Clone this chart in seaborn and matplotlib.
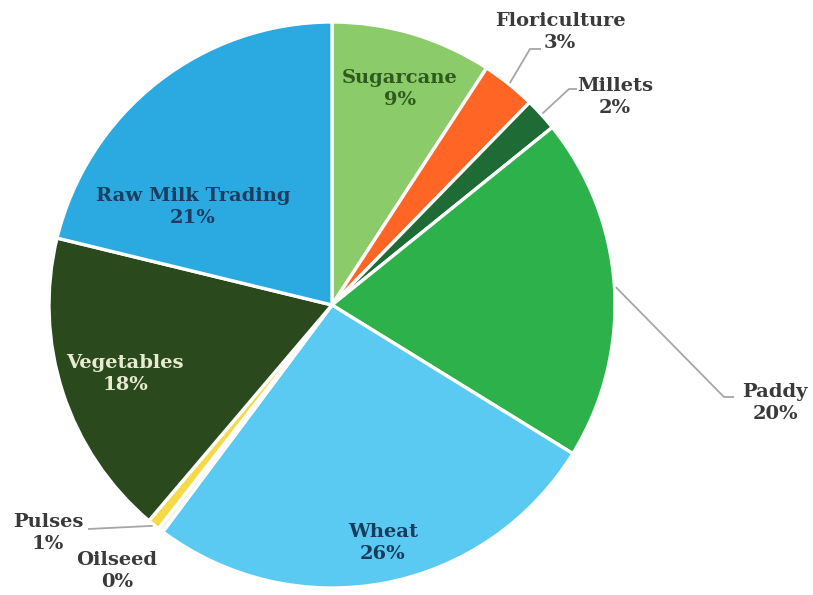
import numpy as np
import matplotlib
matplotlib.use("Agg")
import matplotlib.pyplot as plt
import seaborn as sns

# Share of agri-business activity by segment (percent)
segments = ["Sugarcane", "Floriculture", "Millets", "Paddy", "Wheat",
            "Oilseed", "Pulses", "Vegetables", "Raw Milk Trading"]
shares = [9.2, 3.1, 1.9, 19.6, 26.4, 0.3, 0.7, 17.6, 21.2]
colors = ["#8ccb69", "#ff6625", "#1e6b36", "#2db14b", "#5bcaf2",
          "#f4f1de", "#f5d947", "#2a4a1e", "#2ba9e1"]

sns.set_theme(style="white")
plt.rcParams["font.family"] = ["DejaVu Serif", "DejaVu Sans"]

W, H = 813, 595
fig = plt.figure(figsize=(W / 100, H / 100), dpi=100)
ax = fig.add_axes([0, 0, 1, 1])


def px(x, y):
    """Pixel position (origin top-left) to axes data coordinates."""
    return x, H - y


center = px(332, 305)
radius = 283

wedges, _ = ax.pie(shares, colors=colors, startangle=90, counterclock=False,
                   center=center, radius=radius, frame=True,
                   wedgeprops=dict(edgecolor="white", linewidth=2.4))

ax.set_xlim(0, W)
ax.set_ylim(0, H)
ax.set_aspect("equal")
ax.axis("off")

# label placement: (text centre in pixels, text colour, leader elbow, leader end)
layout = {
    "Sugarcane": ((400, 89), "#2f5a1d", None, None),
    "Floriculture": ((560, 32), "#3a3a3a", (530, 49), (541, 49)),
    "Millets": ((615, 97), "#3a3a3a", (569, 89), (577, 89)),
    "Paddy": ((775, 403), "#3a3a3a", (724, 397), (734, 397)),
    "Wheat": ((383, 543), "#173b5b", None, None),
    "Oilseed": ((117, 571), "#3a3a3a", None, None),
    "Pulses": ((48, 533), "#3a3a3a", None, (88, 529)),
    "Vegetables": ((125, 374), "#e8ebd2", None, None),
    "Raw Milk Trading": ((193, 207), "#1b3d5f", None, None),
}

for w, name, val in zip(wedges, segments, shares):
    (tx, ty), tcol, elbow, end = layout[name]
    ax.text(*px(tx, ty), f"{name}\n{val:.0f}%", ha="center", va="center",
            fontsize=14, fontweight="bold", color=tcol, linespacing=1.32)
    if end is not None:
        ang = np.deg2rad((w.theta1 + w.theta2) / 2)
        sx = center[0] + radius * 1.005 * np.cos(ang)
        sy = center[1] + radius * 1.005 * np.sin(ang)
        pts = [(sx, sy)]
        if elbow is not None:
            pts.append(px(*elbow))
        pts.append(px(*end))
        xs, ys = zip(*pts)
        ax.plot(xs, ys, color="#a6a6a6", linewidth=1.3, solid_capstyle="butt")

fig.savefig("out.png", dpi=100, facecolor="white")
